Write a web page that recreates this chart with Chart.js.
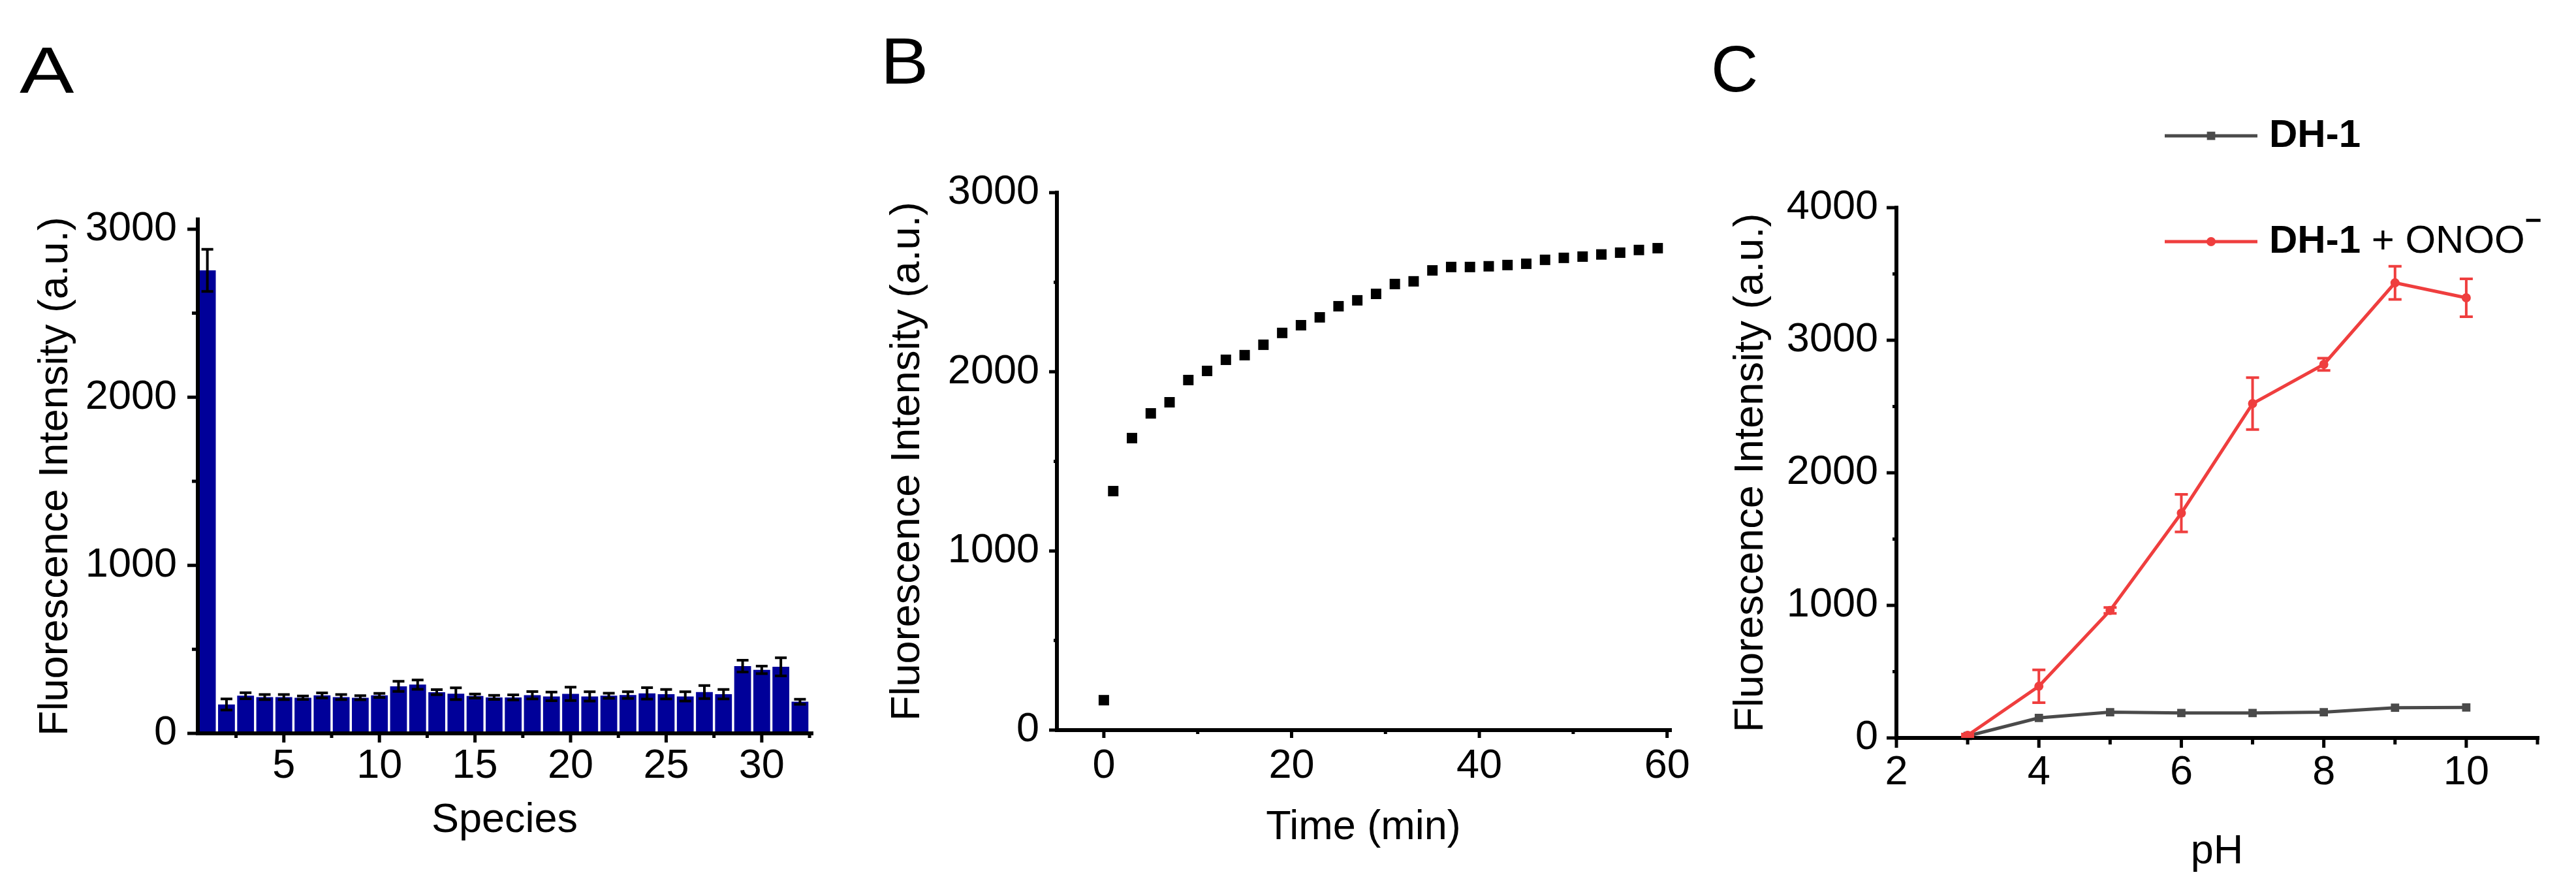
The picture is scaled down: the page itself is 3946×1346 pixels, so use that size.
<!DOCTYPE html>
<html>
<head>
<meta charset="utf-8">
<script src="https://cdn.jsdelivr.net/npm/chart.js@4.4.1/dist/chart.umd.min.js"></script>
<style>
  html, body { margin: 0; padding: 0; background: #fff; }
  body { width: 3946px; height: 1346px; position: relative; overflow: hidden; font-family: "Liberation Sans", Arial, sans-serif; }
  canvas { position: absolute; top: 0; }
  .letter { position: absolute; font-size: 100px; line-height: 100px; color: #000; transform-origin: left top; }
</style>
</head>
<body>
<div class="letter" style="left:30px;top:57px;transform:scaleX(1.25)">A</div>
<div class="letter" style="left:1349px;top:43px;transform:scaleX(1.1)">B</div>
<div class="letter" style="left:2621px;top:55px">C</div>
<canvas id="chartA" style="left:0px" width="1320" height="1346"></canvas>
<canvas id="chartB" style="left:1320px" width="1300" height="1346"></canvas>
<canvas id="chartC" style="left:2620px" width="1326" height="1346"></canvas>
<script>
// panel A: selectivity over 32 species
const speciesIds = [1, 2, 3, 4, 5, 6, 7, 8, 9, 10, 11, 12, 13, 14, 15, 16,
  17, 18, 19, 20, 21, 22, 23, 24, 25, 26, 27, 28, 29, 30, 31, 32];
const speciesIntensity = [2755, 172, 224, 216, 216, 212, 226, 216, 212, 226, 280, 290, 245, 236, 222, 214,
  214, 227, 220, 235, 220, 224, 228, 238, 233, 220, 246, 233, 400, 378, 396, 188];
const speciesError = [125, 33, 18, 15, 15, 10, 15, 15, 12, 12, 30, 28, 15, 35, 12, 12,
  15, 22, 26, 40, 28, 15, 20, 34, 28, 28, 39, 28, 35, 22, 54, 15];

// panel B: time course
const timeMin = [0, 1, 3, 5, 7, 9, 11, 13, 15, 17, 19, 21, 23, 25, 27, 29,
  31, 33, 35, 37, 39, 41, 43, 45, 47, 49, 51, 53, 55, 57, 59];
const timeIntensity = [167, 1334, 1630, 1768, 1830, 1954, 2005, 2067, 2093, 2151, 2217, 2260, 2304, 2366, 2399, 2435,
  2490, 2505, 2566, 2585, 2585, 2589, 2596, 2603, 2625, 2636, 2643, 2655, 2665, 2680, 2690];

// panel C: pH dependence
const pHValues = [3, 4, 5, 6, 7, 8, 9, 10];
const probeOnly = [15, 151, 194, 188, 188, 194, 228, 230];
const probeOnoo = [20, 390, 962, 1696, 2522, 2818, 3433, 3320];
const probeOnooError = [10, 124, 22, 142, 196, 46, 125, 143];

const yTitle = 'Fluorescence Intensity (a.u.)';
const FONT = '"Liberation Sans", Arial, sans-serif';
Chart.defaults.font.family = FONT;
Chart.defaults.font.size = 63;
Chart.defaults.color = '#000';

function stepValues(min, max, step) {
  const out = [];
  for (let v = Math.ceil(min / step - 1e-9) * step; v <= max + 1e-9; v += step) {
    out.push(Math.round(v * 1e6) / 1e6);
  }
  return out;
}

function stepTicks(step) {
  return s => { s.ticks = stepValues(s.min, s.max, step).map(value => ({ value })); };
}

function minorValues(scale, step) {
  const majors = scale.ticks.map(t => t.value);
  return stepValues(scale.min, scale.max, step).filter(v => !majors.some(m => Math.abs(m - v) < 1e-6));
}

// axis lines and outward tick marks, placed with the chart's own scales
const axisPlugin = {
  id: 'axisLines',
  afterDatasetsDraw(chart, args, o) {
    const { ctx, chartArea: a } = chart;
    const xs = chart.scales.x, ys = chart.scales.y;
    ctx.save();
    ctx.strokeStyle = '#000';
    ctx.lineWidth = 5;
    ctx.lineCap = 'butt';
    ctx.beginPath();
    xs.ticks.forEach(t => {
      const px = xs.getPixelForValue(t.value);
      ctx.moveTo(px, a.bottom); ctx.lineTo(px, a.bottom + o.xMajor);
    });
    minorValues(xs, o.xMinorStep).forEach(v => {
      const px = xs.getPixelForValue(v);
      ctx.moveTo(px, a.bottom); ctx.lineTo(px, a.bottom + o.xMinor);
    });
    ys.ticks.forEach(t => {
      const py = ys.getPixelForValue(t.value);
      ctx.moveTo(a.left, py); ctx.lineTo(a.left - o.yMajor, py);
    });
    minorValues(ys, o.yMinorStep).forEach(v => {
      const py = ys.getPixelForValue(v);
      ctx.moveTo(a.left, py); ctx.lineTo(a.left - o.yMinor, py);
    });
    ctx.stroke();
    ctx.lineWidth = 6;
    ctx.lineCap = 'square';
    ctx.beginPath();
    ctx.moveTo(a.left, a.top);
    ctx.lineTo(a.left, a.bottom);
    ctx.lineTo(a.right, a.bottom);
    ctx.stroke();
    ctx.restore();
  }
};

const errorBarPlugin = {
  id: 'errorBars',
  afterDatasetsDraw(chart, args, o) {
    const { ctx } = chart;
    const xs = chart.scales.x, ys = chart.scales.y;
    chart.data.datasets.forEach(ds => {
      if (!ds.errors) return;
      ctx.save();
      ctx.strokeStyle = ds.errorColor || '#000';
      ctx.lineWidth = o.lineWidth;
      ctx.beginPath();
      ds.data.forEach((p, j) => {
        const px = xs.getPixelForValue(p.x);
        const top = ys.getPixelForValue(p.y + ds.errors[j]);
        const bot = ys.getPixelForValue(p.y - ds.errors[j]);
        ctx.moveTo(px, top); ctx.lineTo(px, bot);
        ctx.moveTo(px - o.cap, top); ctx.lineTo(px + o.cap, top);
        ctx.moveTo(px - o.cap, bot); ctx.lineTo(px + o.cap, bot);
      });
      ctx.stroke();
      ctx.restore();
    });
  }
};

const legendPlugin = {
  id: 'pHLegend',
  afterDraw(chart, args, o) {
    const { ctx } = chart;
    o.rows.forEach((row, k) => {
      const ds = chart.data.datasets[row.dataset];
      const y = o.y[k];
      ctx.save();
      ctx.strokeStyle = ds.borderColor;
      ctx.fillStyle = ds.borderColor;
      ctx.lineWidth = ds.borderWidth;
      ctx.beginPath();
      ctx.moveTo(o.x0, y); ctx.lineTo(o.x1, y);
      ctx.stroke();
      const cx = (o.x0 + o.x1) / 2;
      ctx.beginPath();
      if (ds.pointStyle === 'rect') {
        const h = ds.pointRadius * Math.SQRT1_2;
        ctx.rect(cx - h, y - h, 2 * h, 2 * h);
      } else {
        ctx.arc(cx, y, ds.pointRadius, 0, Math.PI * 2);
      }
      ctx.fill();
      ctx.fillStyle = '#000';
      ctx.textBaseline = 'middle';
      let x = o.textX;
      row.parts.forEach(part => {
        ctx.font = (part.bold ? 'bold ' : '') + (part.sup ? 44 : 60) + 'px ' + FONT;
        ctx.fillText(part.text, x, part.sup ? y - 30 : y);
        x += ctx.measureText(part.text).width;
      });
      ctx.restore();
    });
  }
};

function baseOptions(geo) {
  return {
    responsive: false,
    animation: false,
    events: [],
    devicePixelRatio: 1,
    layout: { padding: { left: 0, top: geo.top, right: geo.right, bottom: 0 } },
    plugins: {
      legend: { display: false },
      tooltip: { enabled: false },
      axisLines: geo.ticks,
      errorBars: geo.err || { lineWidth: 4, cap: 9 }
    },
    scales: {
      x: {
        type: 'linear', offset: false,
        min: geo.xMin, max: geo.xMax,
        grid: { display: false, drawTicks: false },
        border: { display: false },
        afterBuildTicks: stepTicks(geo.xStep),
        ticks: { padding: geo.xPad, maxRotation: 0, autoSkip: false, callback: v => String(v) },
        title: { display: true, text: geo.xTitle, padding: { top: 0, bottom: geo.xTitlePad } },
        afterFit: s => { s.height = geo.xHeight; s.paddingLeft = 0; s.paddingRight = 0; }
      },
      y: {
        min: 0, max: geo.yMax,
        grid: { display: false, drawTicks: false },
        border: { display: false },
        afterBuildTicks: stepTicks(1000),
        ticks: { padding: geo.yPad, autoSkip: false, callback: v => String(v) },
        title: { display: true, text: yTitle, padding: { top: geo.yTitlePad, bottom: 0 } },
        afterFit: s => { s.width = geo.yWidth; s.paddingTop = 0; s.paddingBottom = 0; }
      }
    }
  };
}

new Chart(document.getElementById('chartA'), {
  type: 'bar',
  data: {
    datasets: [{
      data: speciesIds.map((x, i) => ({ x, y: speciesIntensity[i] })),
      errors: speciesError,
      backgroundColor: '#000099',
      barPercentage: 0.88,
      categoryPercentage: 1.0
    }]
  },
  options: baseOptions({
    top: 336, right: 77, xHeight: 223, yWidth: 303,
    xMin: 0.5, xMax: 32.6, xStep: 5, xPad: 13, xTitle: 'Species', xTitlePad: 52,
    yMax: 3058, yPad: 32, yTitlePad: 48,
    ticks: { xMajor: 14, xMinor: 7, xMinorStep: 2.5, yMajor: 16, yMinor: 9, yMinorStep: 500 },
    err: { lineWidth: 4, cap: 9 }
  }),
  plugins: [axisPlugin, errorBarPlugin]
});

new Chart(document.getElementById('chartB'), {
  type: 'scatter',
  data: {
    datasets: [{
      data: timeMin.map((x, i) => ({ x, y: timeIntensity[i] })),
      pointStyle: 'rect',
      pointRadius: 11.3,
      borderWidth: 0,
      backgroundColor: '#000',
      clip: false
    }]
  },
  options: baseOptions({
    top: 295, right: 62, xHeight: 228, yWidth: 299,
    xMin: -5, xMax: 60.3, xStep: 20, xPad: 18, xTitle: 'Time (min)', xTitlePad: 41,
    yMax: 3000, yPad: 27, yTitlePad: 33,
    ticks: { xMajor: 12, xMinor: 6, xMinorStep: 10, yMajor: 12, yMinor: 5, yMinorStep: 500 }
  }),
  plugins: [axisPlugin]
});

const optsC = baseOptions({
  top: 318, right: 59, xHeight: 216, yWidth: 285,
  xMin: 2, xMax: 11, xStep: 2, xPad: 16, xTitle: 'pH', xTitlePad: 4,
  yMax: 4000, yPad: 28, yTitlePad: 25,
  ticks: { xMajor: 15, xMinor: 10, xMinorStep: 1, yMajor: 15, yMinor: 6, yMinorStep: 500 },
  err: { lineWidth: 4, cap: 10 }
});
optsC.plugins.pHLegend = {
  x0: 696, x1: 838, textX: 856, y: [208, 370],
  rows: [
    { dataset: 0, parts: [{ text: 'DH-1', bold: true }] },
    { dataset: 1, parts: [{ text: 'DH-1', bold: true }, { text: ' + ONOO', bold: false }, { text: '−', bold: true, sup: true }] }
  ]
};

new Chart(document.getElementById('chartC'), {
  type: 'line',
  data: {
    datasets: [{
      data: pHValues.map((x, i) => ({ x, y: probeOnly[i] })),
      borderColor: '#4a4a4a',
      backgroundColor: '#4a4a4a',
      borderWidth: 5,
      pointStyle: 'rect',
      pointRadius: 9,
      pointBorderWidth: 0,
      tension: 0,
      clip: false,
      order: 2
    }, {
      data: pHValues.map((x, i) => ({ x, y: probeOnoo[i] })),
      errors: probeOnooError,
      errorColor: '#ef3e3e',
      borderColor: '#ef3e3e',
      backgroundColor: '#ef3e3e',
      borderWidth: 5,
      pointStyle: 'circle',
      pointRadius: 7,
      pointBorderWidth: 0,
      tension: 0,
      clip: false,
      order: 1
    }]
  },
  options: optsC,
  plugins: [axisPlugin, errorBarPlugin, legendPlugin]
});
</script>
</body>
</html>
